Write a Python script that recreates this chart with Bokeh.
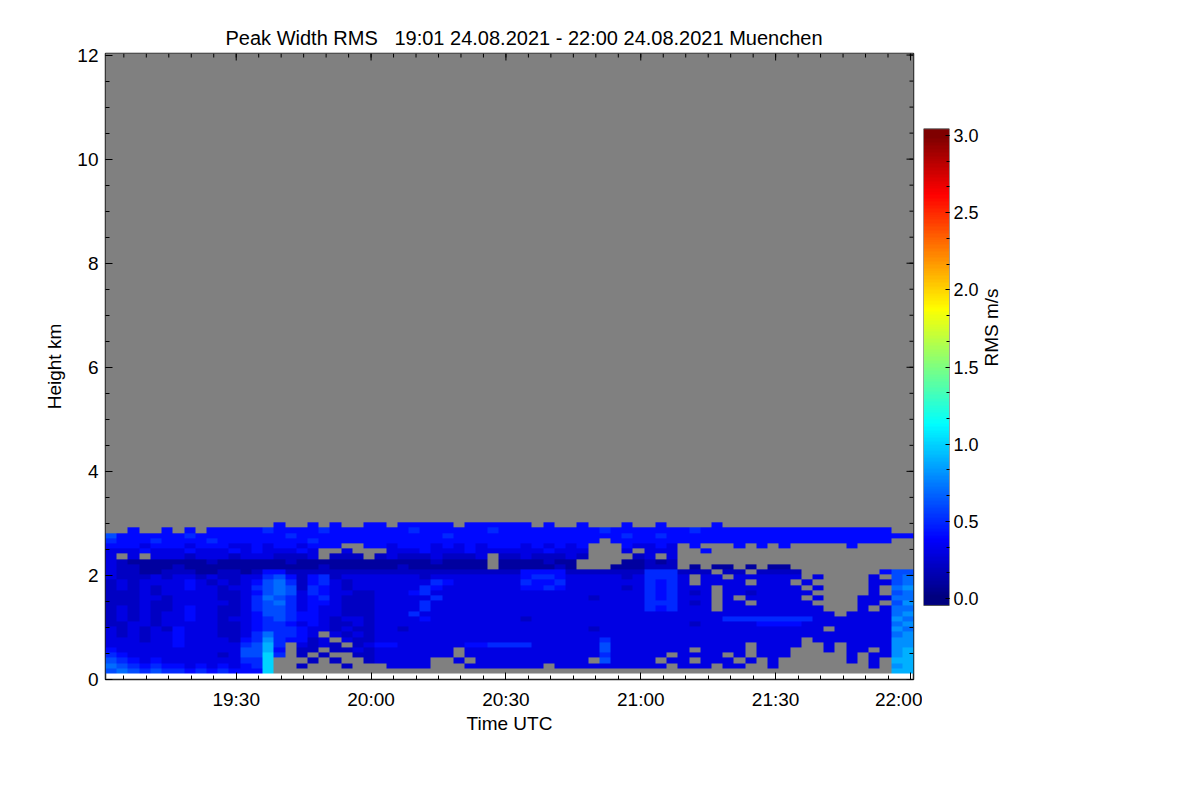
import numpy as np
from bokeh.plotting import figure
from bokeh.models import LinearColorMapper, FixedTicker, Range1d, PrintfTickFormatter
from bokeh.layouts import row
from bokeh.embed import file_html
from bokeh.resources import INLINE

FONT = "Liberation Sans"
NB = "\u00a0"

TITLE = "Peak Width RMS" + NB * 3 + "19:01 24.08.2021 - 22:00 24.08.2021 Muenchen"
X_LABEL = "Time UTC"
Y_LABEL = "Height km"
CBAR_LABEL = "RMS m/s"

# time axis: minutes after 19:00 UTC
TIME_START = 0.92
TIME_END = 180.67
TIME_TICKS = [30, 60, 90, 120, 150, 180]
TIME_LABELS = ["19:30", "20:00", "20:30", "21:00", "21:30", "22:00"]
TIME_MINOR_STEP = 5

# height axis (km)
HEIGHT_TICKS = [0, 2, 4, 6, 8, 10, 12]
HEIGHT_MINOR_STEP = 0.5
HEIGHT_MAX = 12.03
GATE0 = 0.115      # first range gate (km)
DZ = 0.1           # gate spacing used for the grid (km)

# colour scale (m/s)
RMS_TICKS = [0.0, 0.5, 1.0, 1.5, 2.0, 2.5, 3.0]
RMS_LOW, RMS_HIGH = 0.0, 3.0
CB_LO, CB_HI = -0.045, 3.043

# Peak width RMS, 72 time columns (19:01 -> 22:00) x 29 gates (top -> bottom)
# '.' = no data (grey), hex digit d -> d/10 m/s
RMS_ROWS = [
    "............ ...4..4.4..4 4.44444.4444 44.4..4...4. .4....4..... ............",
    "..4..4.4.444 445444454444 444544444454 444444445444 444454444444 4444444444..",
    "644444454444 444454444444 444444544444 444444444454 454444444444 444444444444",
    "544454444544 444444544444 444444444444 44444444.444 444444444444 4444444444..",
    "444344434443 343443444..4 434443434344 4343434...43 343.4...4.4. 4.....4.....",
    "333433343334 3433343..3.. .33343334333 3334333...3. 333..4...... ............",
    "3.3.33323332 3332223.222. 2322232223.2 2322232....2 3.3......... ............",
    "321111111211 111121111111 1111121111.1 111211....11 212......... ............",
    "322111211111 111111121111 1121111111.1 111121...111 222.1.11.1.1 1...........",
    "322112221122 124422222222 222222222222 244442222222 555222.22.22 22.......466",
    "322232332322 335642452333 333323333333 345543333323 5553.33.3333 33.3....3.67",
    "232333343232 346752453233 333335433333 354453333333 5453.3333.33 3.3.....3367",
    "232323343323 356762543233 333354333333 344543333323 545333.33333 33.3....3.78",
    "222323333322 346763543322 333453333333 333333333333 545323.33233 333.....3.67",
    "222332333322 357653453222 333335333333 333333323333 545333.3.333 33.3...33377",
    "222322333332 356753443222 333353333333 333333333333 555323.33.33 333....33.68",
    "232322343322 356653433222 333353333333 333333333333 545333.33333 3333...3.377",
    "232323343322 346654433222 333533333333 333333333333 333333333333 33333.333378",
    "232323343323 345654432332 333343333333 323333333333 333333355555 555333333387",
    "223323333322 345543432232 333333333333 333333333333 333323333344 443333333378",
    "323232433322 345554332322 332333333333 333333323333 333333333333 3333.3333387",
    "323233433322 3575543.3232 333333333333 333333333333 333333333333 333333333378",
    "333233433332 45854423.322 333333333333 333333335333 333333333333 33.333333388",
    "333333433333 5695.3232.23 443333334455 553333336333 333333333.33 33..3.333388",
    "433333333333 6694.22.2232 3333333.3333 333333336333 3333.3333.33 3...3.33.389",
    "543333333323 66a5.2.2..22 3333333.3333 333333335333 33.3333.3.33 3.....3.3389",
    "654343333333 55a...2.2..2 33333..3.333 3333333.6333 3.33.333.3.3 ......3.3.99",
    "765454434343 45a..2...2.. .3333...3333 333.33333333 33.333.33..3 ........3.89",
    "676565545454 44a......... ............ ............ ............ ..........99",
]
N_COLS = 72

# layout (px)
FRAME_W, FRAME_H = 808, 626
BORDER_L, BORDER_T, BORDER_B = 105, 53, 100
MAJOR_LEN, MINOR_LEN = 7, 4


def jet(n=256):
    cols = []
    for i in range(n):
        t = i / (n - 1)
        r = min(max(1.5 - abs(4 * t - 3), 0), 1)
        g = min(max(1.5 - abs(4 * t - 2), 0), 1)
        b = min(max(1.5 - abs(4 * t - 1), 0), 1)
        cols.append("#%02x%02x%02x" % (int(r * 255), int(g * 255), int(b * 255)))
    return cols


def rows_to_array(rows):
    out = []
    for s in rows:
        s = s.replace(" ", "")
        s = (s + "." * N_COLS)[:N_COLS]
        out.append([np.nan if c == "." else int(c, 16) / 10.0 for c in s])
    return np.array(out[::-1])


data = rows_to_array(RMS_ROWS)
n_total = int(np.ceil((HEIGHT_MAX - GATE0) / DZ)) + 1
img = np.full((n_total, N_COLS), np.nan)
img[:data.shape[0], :] = data

mapper = LinearColorMapper(palette=jet(256), low=RMS_LOW, high=RMS_HIGH, nan_color="#808080")


def style_axis(ax, size="19px"):
    ax.major_tick_in = MAJOR_LEN
    ax.major_tick_out = 0
    ax.minor_tick_in = MINOR_LEN
    ax.minor_tick_out = 0
    ax.axis_line_color = None
    ax.major_tick_line_color = "black"
    ax.minor_tick_line_color = "black"
    ax.major_label_text_font = FONT
    ax.major_label_text_color = "black"
    ax.major_label_text_font_size = size
    ax.axis_label_text_font = FONT
    ax.axis_label_text_font_size = "19px"
    ax.axis_label_text_font_style = "normal"
    ax.axis_label_text_color = "black"


time_minor = list(np.arange(0, 181, TIME_MINOR_STEP))
height_minor = list(np.arange(0, 12.01, HEIGHT_MINOR_STEP))

p = figure(frame_width=FRAME_W, frame_height=FRAME_H,
           x_range=Range1d(TIME_START, TIME_END), y_range=Range1d(0, HEIGHT_MAX),
           min_border_left=BORDER_L, min_border_top=BORDER_T, min_border_right=9,
           min_border_bottom=BORDER_B,
           output_backend="svg", toolbar_location=None)
p.image(image=[img], x=TIME_START, y=GATE0, dw=TIME_END - TIME_START, dh=n_total * DZ,
        color_mapper=mapper)
p.xgrid.visible = False
p.ygrid.visible = False
p.outline_line_color = "#222222"
p.outline_line_width = 1.5
p.background_fill_color = "white"
p.border_fill_color = "white"

p.xaxis.ticker = FixedTicker(ticks=TIME_TICKS, minor_ticks=time_minor)
p.xaxis.major_label_overrides = {t: l for t, l in zip(TIME_TICKS, TIME_LABELS)}
p.yaxis.ticker = FixedTicker(ticks=HEIGHT_TICKS, minor_ticks=height_minor)
for ax in p.xaxis:
    style_axis(ax)
    ax.axis_label = X_LABEL
    ax.major_label_standoff = 9
    ax.axis_label_standoff = 0
for ax in p.yaxis:
    style_axis(ax)
    ax.axis_label = Y_LABEL
    ax.major_label_standoff = 7
    ax.axis_label_standoff = 9

# mirrored inward ticks on the top and right edges (from the same tick lists)
px_per_km = FRAME_H / HEIGHT_MAX
px_per_min = FRAME_W / (TIME_END - TIME_START)
tmin_in = [t for t in time_minor if TIME_START <= t <= TIME_END]
hmin_in = [h for h in height_minor if 0 <= h <= HEIGHT_MAX]
p.segment(x0=TIME_TICKS, x1=TIME_TICKS, y0=[HEIGHT_MAX] * len(TIME_TICKS),
          y1=[HEIGHT_MAX - MAJOR_LEN / px_per_km] * len(TIME_TICKS), line_color="black", line_width=1)
p.segment(x0=tmin_in, x1=tmin_in, y0=[HEIGHT_MAX] * len(tmin_in),
          y1=[HEIGHT_MAX - MINOR_LEN / px_per_km] * len(tmin_in), line_color="black", line_width=1)
p.segment(y0=HEIGHT_TICKS, y1=HEIGHT_TICKS, x0=[TIME_END] * len(HEIGHT_TICKS),
          x1=[TIME_END - MAJOR_LEN / px_per_min] * len(HEIGHT_TICKS), line_color="black", line_width=1)
p.segment(y0=hmin_in, y1=hmin_in, x0=[TIME_END] * len(hmin_in),
          x1=[TIME_END - MINOR_LEN / px_per_min] * len(hmin_in), line_color="black", line_width=1)

p.title.text = TITLE
p.title.text_font = FONT
p.title.text_font_size = "20px"
p.title.text_font_style = "normal"
p.title.text_color = "black"
p.title.align = "left"
p.title.offset = 120

# colour bar (same frame height as the main plot so the row keeps both aligned)
CB_PX_PER_UNIT = 154.33
CB_ZERO_FROM_BOTTOM = 81
cb_y0 = -CB_ZERO_FROM_BOTTOM / CB_PX_PER_UNIT
cb_y1 = cb_y0 + FRAME_H / CB_PX_PER_UNIT
grad = np.linspace(CB_LO, CB_HI, 400).reshape(-1, 1)
cb = figure(frame_width=26, frame_height=FRAME_H,
            x_range=Range1d(0, 1), y_range=Range1d(cb_y0, cb_y1),
            y_axis_location="right", x_axis_location=None,
            min_border_left=1, min_border_top=BORDER_T, min_border_right=120,
            min_border_bottom=BORDER_B,
            output_backend="svg", toolbar_location=None)
cb.image(image=[grad], x=0, y=CB_LO, dw=1, dh=CB_HI - CB_LO, color_mapper=mapper)
cb.quad(left=0, right=1, bottom=CB_LO, top=CB_HI, fill_color=None, line_color="#555555", line_width=1)
cb.xgrid.visible = False
cb.ygrid.visible = False
cb.outline_line_color = None
cb.background_fill_color = "white"
cb.border_fill_color = "white"
cb.yaxis.ticker = FixedTicker(ticks=RMS_TICKS, minor_ticks=[i / 6 for i in range(19)])
cb.yaxis.formatter = PrintfTickFormatter(format="%.1f")
for ax in cb.yaxis:
    style_axis(ax, size="18px")
    ax.major_tick_in = 4
    ax.minor_tick_in = 3
    ax.major_label_standoff = 4
    ax.axis_label = CBAR_LABEL
    ax.axis_label_standoff = 10
    try:
        ax.axis_label_orientation = float(np.pi / 2)
    except Exception:
        pass

layout = row(p, cb)
open("out.html", "w").write(file_html(layout, INLINE))
